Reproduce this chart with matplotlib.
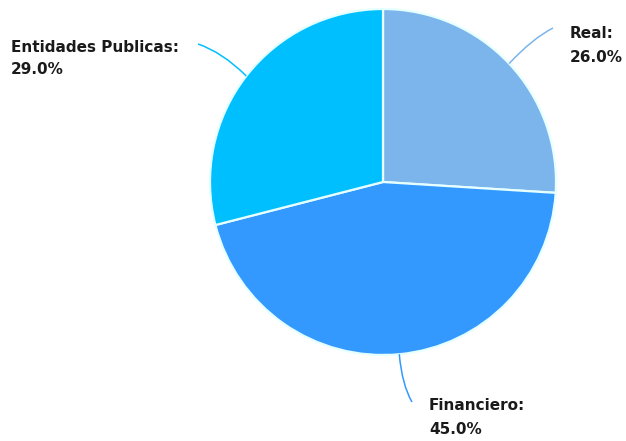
import numpy as np
import matplotlib
matplotlib.use("Agg")
import matplotlib.pyplot as plt
from matplotlib.path import Path
from matplotlib.patches import PathPatch

categories = ["Real", "Financiero", "Entidades Publicas"]
values = [26.0, 45.0, 29.0]
colors = ["#7cb5ec", "#3399fe", "#00bfff"]

W, H = 626, 441
fig = plt.figure(figsize=(W / 100, H / 100), dpi=100)
ax = fig.add_axes([0, 0, 1, 1])

cx, cy_pix, R = 383, 182, 173
cy = H - cy_pix

wedges, _ = ax.pie(values, colors=colors, startangle=90, counterclock=False,
                   center=(cx, cy), radius=R,
                   wedgeprops=dict(edgecolor="#e6ffff", linewidth=1.6))
ax.set_xlim(0, W)
ax.set_ylim(0, H)
ax.set_aspect("equal")
ax.axis("off")

# label anchor (pixel coords of text left edge, first line center) and connector end
label_pos = {
    "Real": ((570, 34), (553, 28), (533, 38)),
    "Financiero": ((429, 406), (412, 402), (402, 385)),
    "Entidades Publicas": ((11, 47), (198, 44), (222, 52)),
}

for w, cat, val, col in zip(wedges, categories, values, colors):
    mid = np.deg2rad((w.theta1 + w.theta2) / 2)
    sx, sy = cx + R * np.cos(mid), cy + R * np.sin(mid)
    (tx, ty), (ex, ey), (qx, qy) = label_pos[cat]
    verts = [(sx, sy), (qx, H - qy), (ex, H - ey)]
    path = Path(verts, [Path.MOVETO, Path.CURVE3, Path.CURVE3])
    ax.add_patch(PathPatch(path, facecolor="none", edgecolor=col, lw=1.1))
    ax.text(tx, H - ty, f"{cat}:", ha="left", va="center", fontsize=11,
            fontweight="bold", family="DejaVu Sans", color="#1a1a1a")
    ax.text(tx, H - ty - 23, f"{val:.1f}%", ha="left", va="center", fontsize=11,
            fontweight="bold", family="DejaVu Sans", color="#1a1a1a")

fig.savefig("out.png", dpi=100)
